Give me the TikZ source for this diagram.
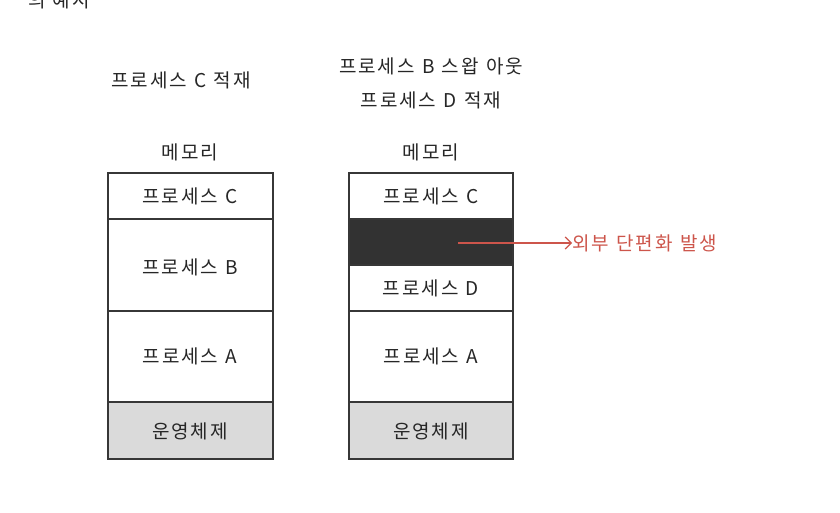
\documentclass[tikz,border=0pt]{standalone}
\usepackage{fontspec}
\setmainfont{Noto Sans CJK KR}[LetterSpace=10, WordSpace=1.2]
\usetikzlibrary{arrows.meta}
\definecolor{fragred}{RGB}{205,85,75}
\definecolor{osgray}{RGB}{218,218,218}
\definecolor{holeblack}{RGB}{50,50,50}
\definecolor{lineblack}{RGB}{55,55,55}
\begin{document}
\begin{tikzpicture}[x=1pt,y=-1pt,
  lbl/.style={font=\fontsize{19}{21}\selectfont, text=black!85, inner sep=0pt},
  cell/.style={draw=lineblack, line width=1.3pt},
  redlbl/.style={font=\fontsize{19}{21}\selectfont, text=fragred, inner sep=0pt, anchor=west}]
\useasboundingbox (0,0) rectangle (840,512);
\fill[white] (0,0) rectangle (840,512);
% cut-off title at top
\begin{scope}
\clip (0,0) rectangle (840,12);
\node[lbl, anchor=east] (title) at (90,0) {의 예시};
\end{scope}
% headings
\node[lbl] (h1) at (181,80) {프로세스 C 적재};
\node[lbl] (h2a) at (431,66) {프로세스 B 스왑 아웃};
\node[lbl] (h2b) at (431,100) {프로세스 D 적재};
\node[lbl] (m1) at (190,152) {메모리};
\node[lbl] (m2) at (431,152) {메모리};
% left memory
\fill[osgray] (108,402) rectangle (273,459);
\draw[cell] (108,173) rectangle (273,459);
\draw[cell] (108,219) -- (273,219);
\draw[cell] (108,311) -- (273,311);
\draw[cell] (108,402) -- (273,402);
\node[lbl] (lc) at (190,196) {프로세스 C};
\node[lbl] (lb) at (190,267) {프로세스 B};
\node[lbl] (la) at (190,356) {프로세스 A};
\node[lbl] (los) at (190,431) {운영체제};
% right memory
\fill[osgray] (349,402) rectangle (513,459);
\fill[holeblack] (349,219) rectangle (513,265);
\draw[cell] (349,173) rectangle (513,459);
\draw[cell] (349,219) -- (513,219);
\draw[cell] (349,265) -- (513,265);
\draw[cell] (349,311) -- (513,311);
\draw[cell] (349,402) -- (513,402);
\node[lbl] (rc) at (431,196) {프로세스 C};
\node[lbl] (rd) at (431,288) {프로세스 D};
\node[lbl] (ra) at (431,356) {프로세스 A};
\node[lbl] (ros) at (431,431) {운영체제};
% arrow
\coordinate (hole) at (458,243);
\node[redlbl] (frag) at (572,243) {외부 단편화 발생};
\draw[fragred, line width=1.2pt, -{Straight Barb[length=6pt,width=12pt]}] (hole) -- (frag.west);
\end{tikzpicture}
\end{document}
